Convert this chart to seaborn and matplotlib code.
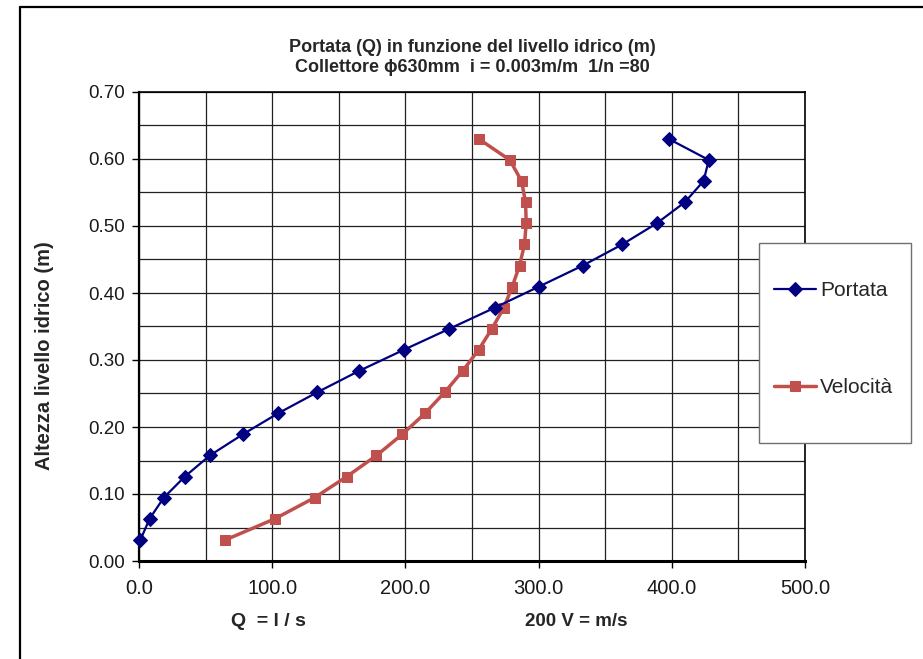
import matplotlib
matplotlib.use("Agg")
import matplotlib.pyplot as plt
from matplotlib.patches import Rectangle
from matplotlib.ticker import MultipleLocator, FormatStrFormatter
import seaborn as sns
import pandas as pd

# Water level in the pipe (m), steps of D/20 for a 630 mm collector
livello = [0.0315, 0.063, 0.0945, 0.126, 0.1575, 0.189, 0.2205, 0.252, 0.2835, 0.315,
           0.3465, 0.378, 0.4095, 0.441, 0.4725, 0.504, 0.5355, 0.567, 0.5985, 0.630]
# Flow rate Q (l/s)
portata = [1.1, 7.9, 18.6, 34.4, 53.2, 77.9, 104.5, 134.0, 165.0, 198.6,
           232.9, 267.0, 300.2, 333.2, 362.8, 388.7, 409.8, 423.8, 427.8, 397.7]
# Velocity scaled as 200*V (m/s)
velocita = [64.9, 102.0, 131.8, 156.0, 178.3, 197.6, 214.8, 229.6, 242.9, 254.9,
            264.9, 273.9, 280.2, 285.7, 289.4, 290.7, 290.2, 287.2, 278.4, 255.1]

df = pd.DataFrame({"livello": livello, "Portata": portata, "Velocità": velocita})

sns.set_theme(style="white")
plt.rcParams["font.family"] = ["Liberation Sans", "DejaVu Sans"]

W, H = 923, 659
fig = plt.figure(figsize=(W / 100, H / 100), dpi=100)
ax = fig.add_axes([139 / W, 1 - 561 / H, (805 - 139) / W, (561 - 92) / H])

sns.lineplot(data=df, x="Portata", y="livello", sort=False, estimator=None, ax=ax,
             color="#000080", linewidth=1.6, marker="D", markersize=7,
             markeredgecolor="#000080", label="Portata", zorder=4, clip_on=False)
sns.lineplot(data=df, x="Velocità", y="livello", sort=False, estimator=None, ax=ax,
             color="#C0504D", linewidth=2.5, marker="s", markersize=7,
             markeredgecolor="#C0504D", label="Velocità", zorder=3, clip_on=False)

ax.set_xlim(0, 500)
ax.set_ylim(0, 0.70)
ax.xaxis.set_major_locator(MultipleLocator(100))
ax.xaxis.set_minor_locator(MultipleLocator(50))
ax.yaxis.set_major_locator(MultipleLocator(0.1))
ax.yaxis.set_minor_locator(MultipleLocator(0.05))
ax.xaxis.set_major_formatter(FormatStrFormatter("%.1f"))
ax.yaxis.set_major_formatter(FormatStrFormatter("%.2f"))
ax.grid(True, which="both", color="#202020", linewidth=0.9)
ax.set_axisbelow(True)
ax.tick_params(axis="both", which="major", direction="out", length=5, width=1,
               color="black", labelsize=13.5, labelcolor="#1a1a1a", pad=5, bottom=True, left=True)
ax.tick_params(axis="x", which="major", labelsize=14.5, pad=8)
ax.tick_params(which="minor", length=0)
ax.set_xlabel("")
ax.set_ylabel("")
for name, sp in ax.spines.items():
    sp.set_color("black")
    sp.set_linewidth(1.2)
ax.spines["bottom"].set_linewidth(2.2)
ax.spines["left"].set_linewidth(1.6)

ax.get_legend().remove()

# Legend box to the right of the plot area
fig.patches.append(Rectangle((759 / W, 1 - 443 / H), (911 - 759) / W, (443 - 243) / H,
                             transform=fig.transFigure, facecolor="white",
                             edgecolor="#707070", linewidth=1.0, zorder=5))
handles, labels = ax.get_legend_handles_labels()
leg = fig.legend(handles, labels, loc="upper left",
                 bbox_to_anchor=(774 / W, 1 - 281 / H), frameon=False,
                 fontsize=15, labelspacing=3.75, handlelength=2.0,
                 handletextpad=0.2, borderpad=0, borderaxespad=0)
leg.set_zorder(6)

fig.text(472 / W, 1 - 57.5 / H,
         "Portata (Q) in funzione del livello idrico (m)\nCollettore \u03d5630mm  i = 0.003m/m  1/n =80",
         ha="center", va="center", fontsize=13, fontweight="bold", linespacing=1.3)
fig.text(45 / W, 1 - 356 / H, "Altezza livello idrico (m)", rotation=90,
         ha="center", va="center", fontsize=14.5, fontweight="bold")
fig.text(268 / W, 1 - 622 / H, "Q  = l / s", ha="center", va="center",
         fontsize=14, fontweight="bold")
fig.text(576 / W, 1 - 622 / H, "200 V = m/s", ha="center", va="center",
         fontsize=13.5, fontweight="bold")

# Outer frame lines (top and left)
fig.add_artist(plt.Line2D([20 / W, 1], [1 - 7 / H, 1 - 7 / H], transform=fig.transFigure,
                          color="black", linewidth=1.6))
fig.add_artist(plt.Line2D([20 / W, 20 / W], [0, 1 - 7 / H], transform=fig.transFigure,
                          color="black", linewidth=1.6))

fig.savefig("out.png", dpi=100)
